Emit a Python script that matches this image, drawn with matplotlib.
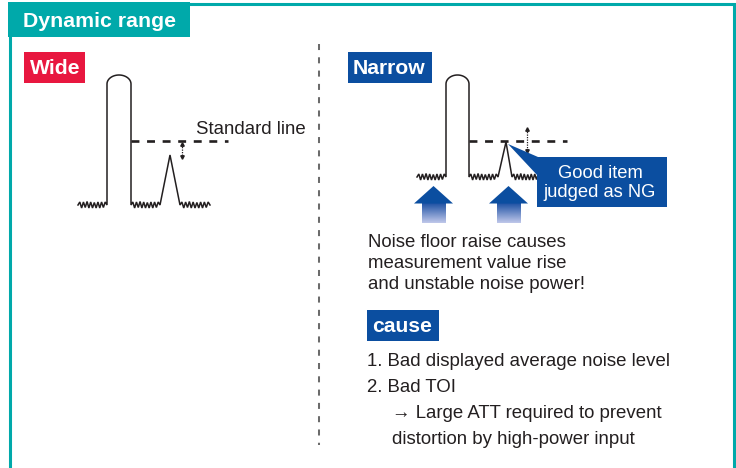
import numpy as np
import matplotlib
matplotlib.use("Agg")
from matplotlib import pyplot as plt
from matplotlib.patches import Rectangle, Polygon
from matplotlib.colors import to_rgb

plt.rcParams['font.family'] = ['Liberation Sans', 'DejaVu Sans']

# texts of the diagram
title = "Dynamic range"
panel_labels = ["Wide", "Narrow"]
standard_label = "Standard line"
callout_lines = ["Good item", "judged as NG"]
noise_lines = ["Noise floor raise causes", "measurement value rise", "and unstable noise power!"]
cause_label = "cause"
cause_lines = ["1. Bad displayed average noise level", "2. Bad TOI"]
cause_sub_lines = ["\u2192 Large ATT required to prevent", "distortion by high-power input"]

# zigzag offsets of the noise floor (pixels above/below the floor)
noise_offsets = [0, -3, 3, -3, 2.5, -3.5, 3, -3, 3, -2.5, 3, -3, 3, -3, 2.5, -3, 0]

TEAL = "#00A9AA"
RED = "#E8173F"
BLUE = "#0B4EA0"
INK = "#231F20"

fig = plt.figure(figsize=(7.36, 4.68), dpi=100)
ax = fig.add_axes([0, 0, 1, 1])
ax.axis('off')


def zigzag(x0, x1, y):
    xs = np.linspace(x0, x1, len(noise_offsets))
    ys = y + np.array(noise_offsets)
    return list(xs), list(ys)


def spectrum(left, right, top, floor, n0, peak, n_end):
    # left noise, tall rounded peak, middle noise, small peak, right noise
    xs, ys = zigzag(n0, left, floor)
    t = np.linspace(np.pi, 0, 30)
    cx, rx, ry = (left + right) / 2, (right - left) / 2, 9
    xs += [left] + list(cx + rx * np.cos(t)) + [right]
    ys += [floor] + list(top + ry - ry * np.sin(t)) + [floor]
    mx, my = zigzag(right, peak[0], floor)
    xs += mx
    ys += my
    xs += [peak[1], peak[2]]
    ys += [peak[3], floor]
    rx_, ry_ = zigzag(peak[2], n_end, floor)
    xs += rx_
    ys += ry_
    ax.plot(xs, ys, color=INK, lw=1.1, solid_joinstyle='miter', zorder=3)


def dotted_arrow(x, y0, y1):
    ax.plot([x, x], [y0 + 2, y1 - 2], color=INK, lw=0.9, ls=(0, (1, 1)), zorder=3)
    ax.plot([x], [y0 + 1.5], marker='^', ms=2.5, color=INK, zorder=3)
    ax.plot([x], [y1 - 1.5], marker='v', ms=2.5, color=INK, zorder=3)


def up_arrow(tip):
    ax.add_patch(Polygon([(tip, 186), (tip - 19.5, 203.5), (tip + 19.5, 203.5)],
                         closed=True, color=BLUE, lw=0, zorder=3))
    c0, c1 = np.array(to_rgb("#1F52A4")), np.array(to_rgb("#BFC7EA"))
    k = np.linspace(0, 1, 40)[:, None]
    grad = (c0 * (1 - k) + c1 * k)[:, None, :]
    ax.imshow(grad, extent=(tip - 12, tip + 12, 223, 203), aspect='auto',
              interpolation='bilinear', zorder=2)


# frame
ax.plot([9.5, 9.5, 733.5, 733.5], [480, 3.5, 3.5, 480], color=TEAL, lw=2.2,
        solid_joinstyle='miter', zorder=1)
ax.add_patch(Rectangle((8, 2), 182, 35, color=TEAL, lw=0, zorder=1))
ax.text(23, 27, title, color='white', fontsize=15.3, fontweight='bold', va='baseline')

# centre divider
ax.plot([319, 319], [44, 445], color="#6B6B6B", lw=1.45, ls=(0, (3.0, 3.6)))

# panel labels
for (x0, x1, col), lab, tx in zip([(24, 85, RED), (348, 432, BLUE)], panel_labels, [29.5, 353]):
    ax.add_patch(Rectangle((x0, 52), x1 - x0, 31, color=col, lw=0, zorder=2))
    ax.text(tx, 74.5, lab, color='white', fontsize=15.2, fontweight='bold', va='baseline', zorder=3)

# wide panel
spectrum(107, 131, 75, 205, 78, (160, 170, 180, 155), 210)
ax.plot([131, 228], [141, 141], color=INK, lw=1.9, ls=(0, (3.0, 2.9)), zorder=3)
dotted_arrow(182, 142, 158)
ax.text(196, 134, standard_label, color=INK, fontsize=13.4, va='baseline')

# narrow panel
spectrum(446, 469, 75, 177, 417, (498, 506, 512, 142), 540)
ax.plot([469, 567], [141, 141], color=INK, lw=1.9, ls=(0, (3.0, 2.9)), zorder=3)
dotted_arrow(527, 127, 152)
ax.add_patch(Polygon([(508, 144), (538, 157), (538, 176)], closed=True, color=BLUE, lw=0, zorder=4))
ax.add_patch(Rectangle((537, 157), 130, 50, color=BLUE, lw=0, zorder=4))
for y, line in zip([178, 197], callout_lines):
    ax.text(600, y, line, color='white', fontsize=13.2, ha='center', va='baseline', zorder=5)

up_arrow(433.5)
up_arrow(508.5)

for y, line in zip([247, 268, 289], noise_lines):
    ax.text(368, y, line, color=INK, fontsize=13.4, va='baseline')

ax.add_patch(Rectangle((367, 310), 72, 31, color=BLUE, lw=0, zorder=2))
ax.text(372, 332, cause_label, color='white', fontsize=15.2, fontweight='bold', va='baseline', zorder=3)
for y, line in zip([366, 392], cause_lines):
    ax.text(367, y, line, color=INK, fontsize=13.4, va='baseline')
for y, line in zip([418, 444], cause_sub_lines):
    ax.text(392, y, line, color=INK, fontsize=13.4, va='baseline')

ax.set_xlim(0, 736)
ax.set_ylim(468, 0)
fig.savefig("out.png", dpi=100)
